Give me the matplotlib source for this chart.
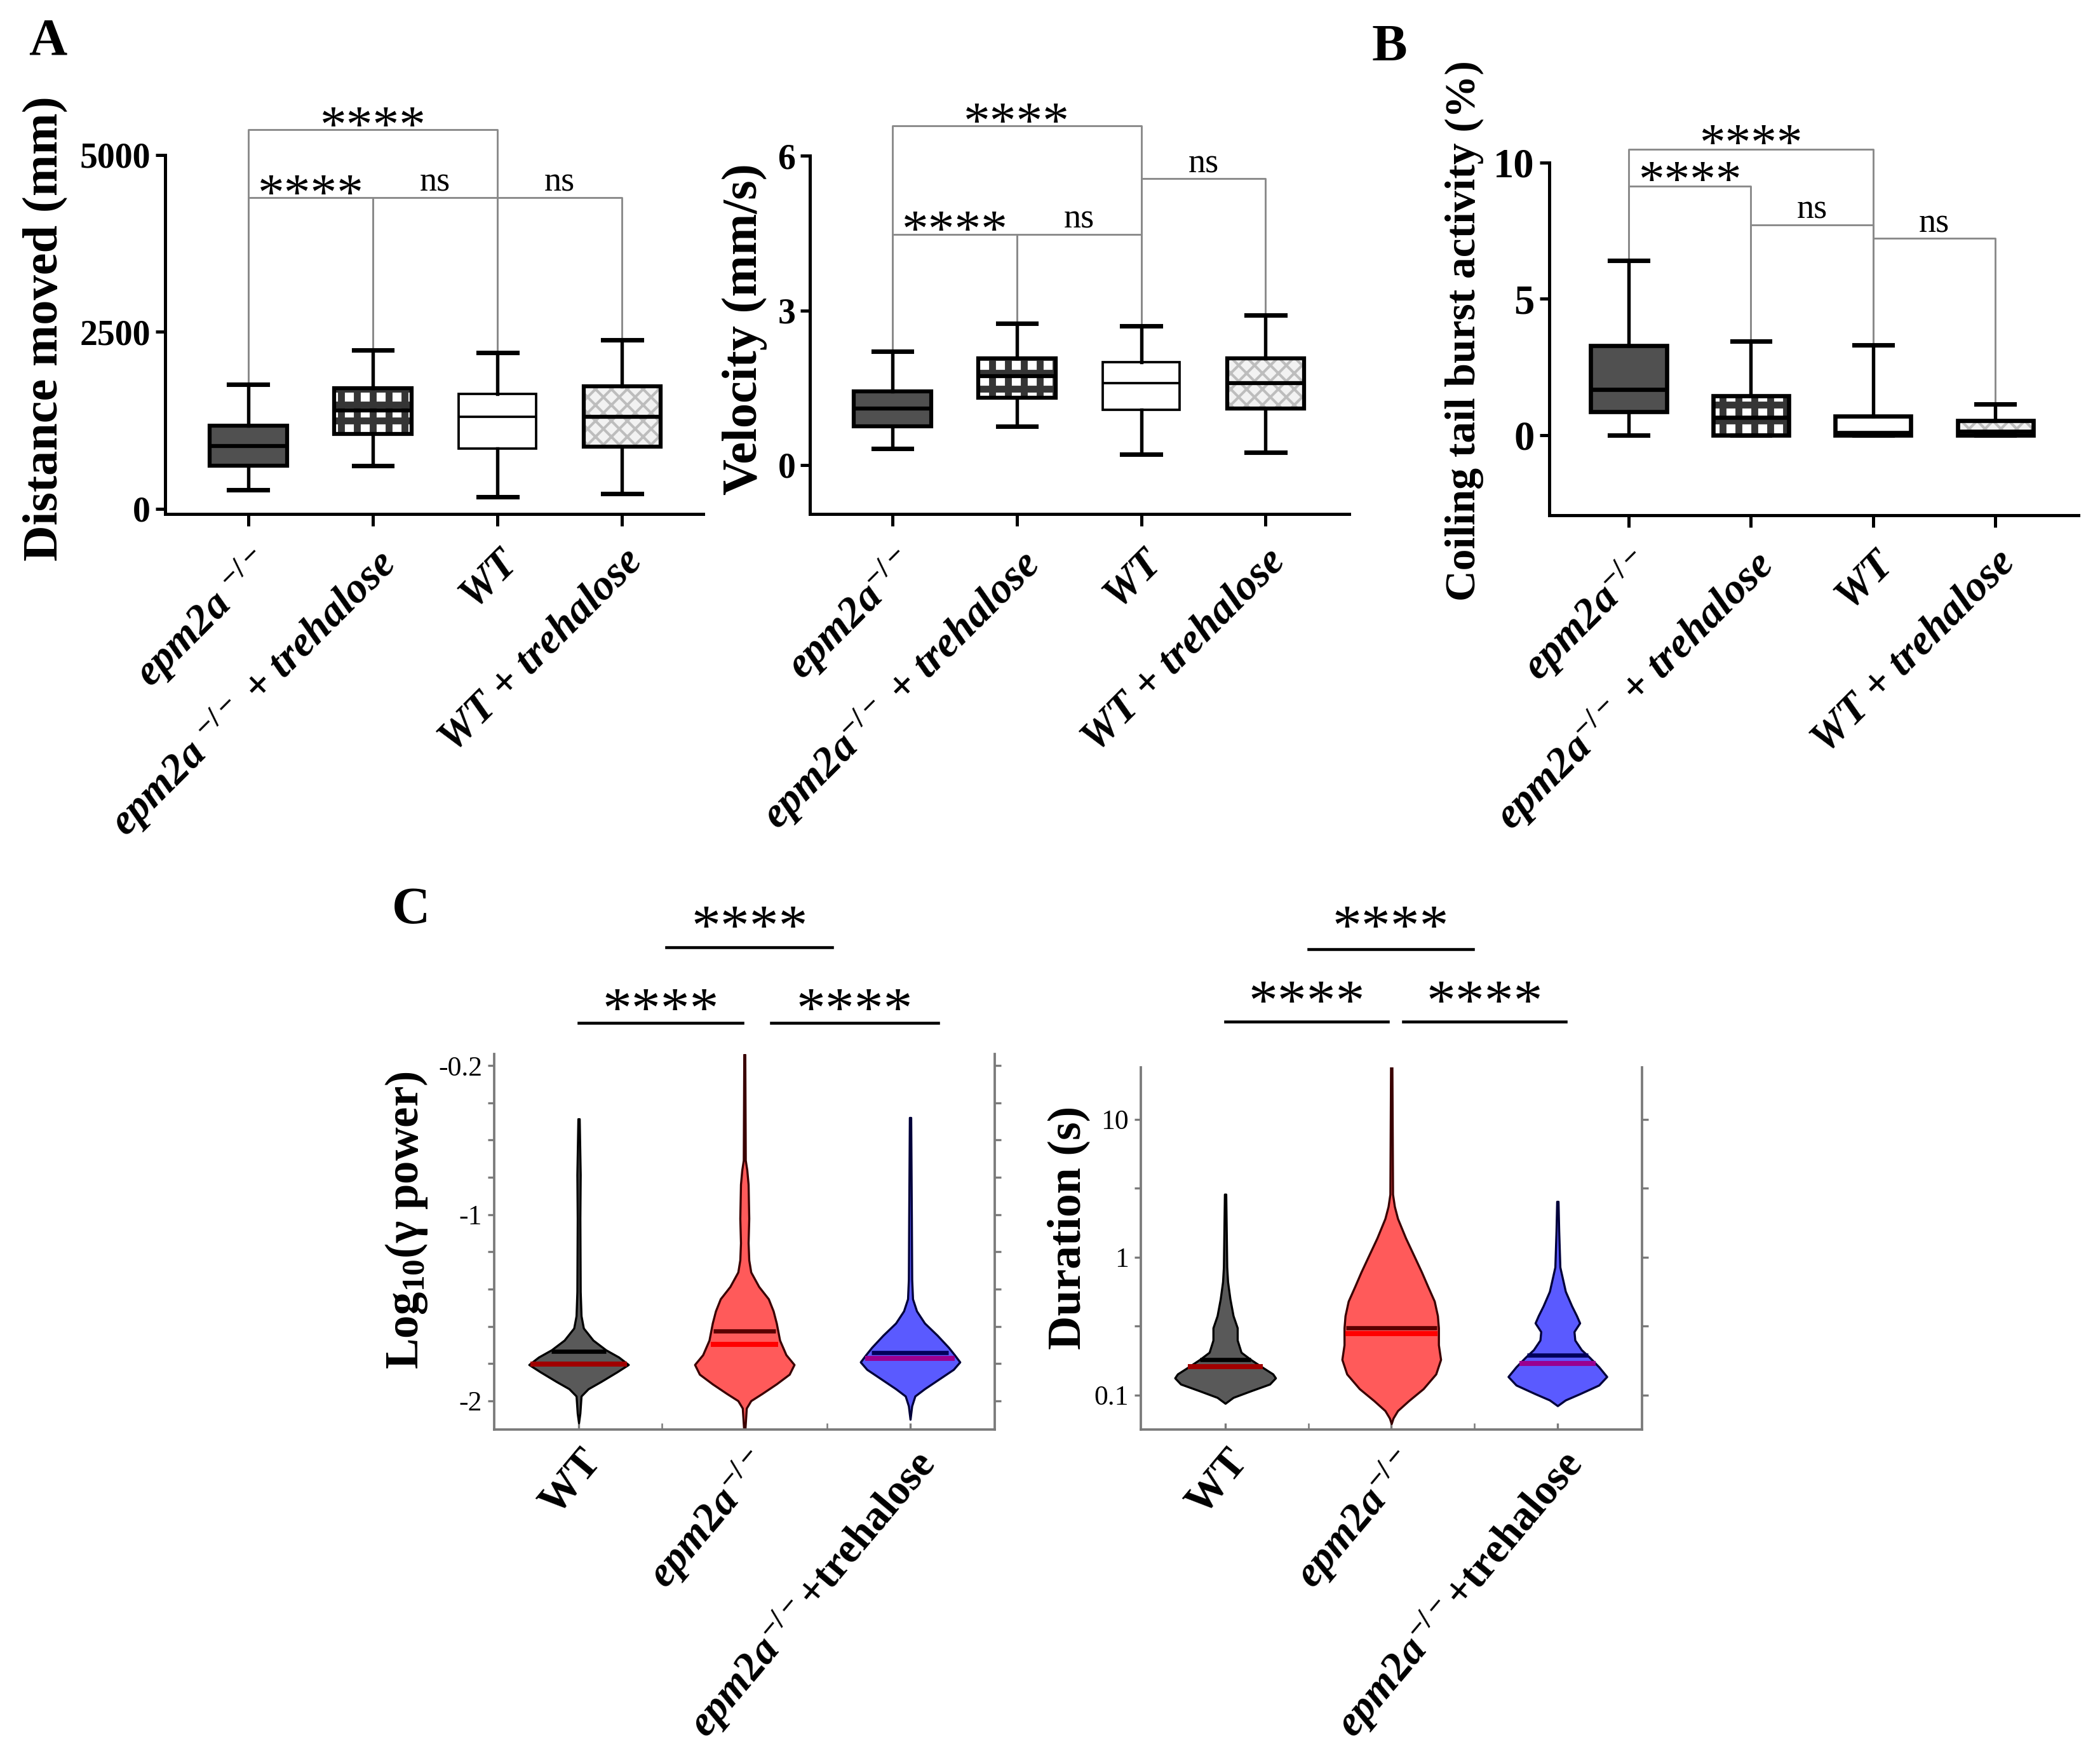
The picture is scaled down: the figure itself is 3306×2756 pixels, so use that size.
import numpy as np
import matplotlib
matplotlib.use('Agg')
import matplotlib.pyplot as plt
from matplotlib.patches import Rectangle
from matplotlib.ticker import NullLocator
from matplotlib.transforms import blended_transform_factory

plt.rcParams['font.family'] = ['Liberation Serif', 'DejaVu Serif']
plt.rcParams['mathtext.fontset'] = 'custom'
plt.rcParams['mathtext.rm'] = 'Liberation Serif:bold'
plt.rcParams['mathtext.it'] = 'Liberation Serif:italic:bold'
plt.rcParams['mathtext.bf'] = 'Liberation Serif:bold'
plt.rcParams['hatch.linewidth'] = 2.0

W, H = 3306, 2756

# ---------------- A / B : box plots ----------------
labels_a1 = ['epm2a $^{-/-}$', 'epm2a $^{-/-}$ + trehalose', 'WT', 'WT + trehalose']
labels_ab = ['epm2a$^{-/-}$', 'epm2a$^{-/-}$ + trehalose', 'WT', 'WT + trehalose']

dist_whislo = [271, 604, 170, 217]
dist_q1 = [604, 1060, 851, 875]
dist_med = [890, 1393, 1300, 1300]
dist_q3 = [1176, 1703, 1625, 1726]
dist_whishi = [1757, 2245, 2206, 2384]

vel_whislo = [0.32, 0.75, 0.21, 0.25]
vel_q1 = [0.75, 1.31, 1.07, 1.09]
vel_med = [1.10, 1.72, 1.59, 1.59]
vel_q3 = [1.43, 2.07, 2.00, 2.07]
vel_whishi = [2.20, 2.75, 2.70, 2.91]

coil_whislo = [0, 0, 0, 0]
coil_q1 = [0.85, 0, 0, 0]
coil_med = [1.67, 0.64, 0.08, 0.12]
coil_q3 = [3.28, 1.44, 0.69, 0.52]
coil_whishi = [6.41, 3.43, 3.29, 1.12]

# (left group, right group, height, label)
dist_brackets = [(0, 2, 5356, '****'), (0, 1, 4396, '****'), (1, 2, 4396, 'ns'), (2, 3, 4396, 'ns')]
vel_brackets = [(0, 2, 6.58, '****'), (2, 3, 5.56, 'ns'), (0, 1, 4.48, '****'), (1, 2, 4.48, 'ns')]
coil_brackets = [(0, 2, 10.48, '****'), (0, 1, 9.12, '****'), (1, 2, 7.71, 'ns'), (2, 3, 7.21, 'ns')]

box_face = ['#505050', 'white', 'white', '#f2f2f2']
box_hatch = [None, '++', None, 'xxxx']
hatch_color = [None, '#353535', None, '#bdbdbd']
hatch_lw = [0, 2.6, 0, 1.0]

# ---------------- C : violins ----------------
vio_labels = ['WT', r'$\mathit{epm2a}^{-/-}$', r'$\mathit{epm2a}^{-/-}$+trehalose']
vio_face = ['#595959', '#ff5a5a', '#5a5aff']
vio_edge = ['#000000', '#3a0000', '#00003a']
mean_colors = ['#000000', '#5a0000', '#00005a']
median_colors = ['#a00000', '#ff0000', '#9a0090']

# log10 gamma power: profile levels and half widths
gam_levels = [
    [-0.486, -0.786, -1.021, -1.414, -1.544, -1.61, -1.675, -1.727, -1.766, -1.806,
     -1.845, -1.897, -1.936, -1.975, -2.067, -2.119],
    [-0.14, -0.708, -0.76, -0.838, -1.021, -1.152, -1.244, -1.309, -1.387, -1.453, -1.518,
     -1.583, -1.675, -1.753, -1.806, -1.858, -1.91, -1.962, -2.0, -2.04, -2.15],
    [-0.479, -1.021, -1.348, -1.453, -1.518, -1.583, -1.649, -1.714, -1.753, -1.792,
     -1.832, -1.884, -1.936, -1.975, -2.028, -2.1],
]
gam_halfw = [
    [0.004, 0.010, 0.008, 0.010, 0.015, 0.029, 0.087, 0.164, 0.242, 0.300,
     0.232, 0.135, 0.058, 0.015, 0.008, 0.0],
    [0.003, 0.006, 0.015, 0.023, 0.027, 0.023, 0.027, 0.039, 0.087, 0.145, 0.174,
     0.193, 0.213, 0.251, 0.300, 0.271, 0.193, 0.106, 0.039, 0.012, 0.004],
    [0.004, 0.008, 0.010, 0.015, 0.039, 0.087, 0.164, 0.232, 0.267, 0.300,
     0.261, 0.174, 0.087, 0.029, 0.010, 0.0],
]
gam_mean = [-1.734, -1.627, -1.740]
gam_mean_hw = [0.164, 0.186, 0.232]
gam_median = [-1.803, -1.697, -1.773]
gam_median_hw = [0.290, 0.205, 0.270]

# duration (s)
dur_levels = [
    [2.86, 1.905, 0.847, 0.664, 0.499, 0.376, 0.307, 0.250, 0.204, 0.181, 0.160, 0.142,
     0.133, 0.120, 0.107, 0.096, 0.087],
    [24.5, 2.86, 2.33, 1.905, 1.377, 1.037, 0.780, 0.611, 0.479, 0.376, 0.307, 0.231,
     0.181, 0.142, 0.111, 0.091, 0.077, 0.068, 0.062],
    [2.535, 1.556, 0.847, 0.564, 0.442, 0.376, 0.333, 0.288, 0.250, 0.213, 0.188, 0.160,
     0.136, 0.118, 0.102, 0.092, 0.0836],
]
dur_halfw = [
    [0.004, 0.006, 0.010, 0.015, 0.029, 0.048, 0.073, 0.073, 0.096, 0.153, 0.220, 0.287,
     0.303, 0.268, 0.153, 0.048, 0.0],
    [0.004, 0.008, 0.019, 0.038, 0.086, 0.134, 0.182, 0.220, 0.259, 0.278, 0.284, 0.284,
     0.297, 0.268, 0.192, 0.105, 0.038, 0.011, 0.0],
    [0.004, 0.008, 0.015, 0.048, 0.086, 0.115, 0.134, 0.100, 0.105, 0.144, 0.192, 0.249,
     0.297, 0.249, 0.134, 0.048, 0.0],
]
dur_mean = [0.180, 0.307, 0.194]
dur_mean_hw = [0.153, 0.274, 0.182]
dur_median = [0.161, 0.280, 0.170]
dur_median_hw = [0.226, 0.278, 0.230]

# significance bars in C: (x from, x to, bar height in axes fraction)
gam_bars = [(1.0, 1.99, 1.084), (2.16, 3.17, 1.084), (1.53, 2.53, 1.285)]
gam_star_y = [1.072, 1.072, 1.292]
dur_bars = [(1.0, 1.98, 1.127), (2.07, 3.05, 1.127), (1.50, 2.49, 1.327)]
dur_star_y = [1.131, 1.131, 1.338]


fig = plt.figure(figsize=(W / 300, H / 300), dpi=300)


def add_ax(l, t, r, b):
    return fig.add_axes([l / W, 1 - b / H, (r - l) / W, (b - t) / H])


def draw_boxes(ax, whislo, q1, med, q3, whishi, lw):
    for i in range(4):
        st = dict(whislo=whislo[i], q1=q1[i], med=med[i], q3=q3[i], whishi=whishi[i])
        face = box_face[i]
        if box_hatch[i]:
            r = Rectangle((i - 0.31, q1[i]), 0.62, q3[i] - q1[i], facecolor=box_face[i],
                          edgecolor=hatch_color[i], hatch=box_hatch[i], lw=0, zorder=2)
            if hasattr(r, 'set_hatch_linewidth'):
                r.set_hatch_linewidth(hatch_lw[i])
            ax.add_patch(r)
            face = 'none'
        ax.bxp([st], positions=[i], widths=0.62, capwidths=0.31, patch_artist=True,
               showfliers=False, manage_ticks=False, zorder=3,
               boxprops=dict(facecolor=face, edgecolor='black', linewidth=lw[i]),
               whiskerprops=dict(color='black', linewidth=1.3),
               capprops=dict(color='black', linewidth=1.7),
               medianprops=dict(color='black', linewidth=lw[i]))


def draw_brackets(ax, brackets, whishi, star_fs, star_dy):
    for i, j, y, lab in brackets:
        ax.plot([i, i, j, j], [whishi[i], y, y, whishi[j]], color='#8a8a8a', lw=0.7,
                clip_on=False, zorder=1)
        if lab == 'ns':
            ax.annotate(lab, xy=((i + j) / 2, y), xytext=(0, 2.4), textcoords='offset points',
                        ha='center', va='baseline', fontsize=13, annotation_clip=False)
        else:
            ax.annotate(lab, xy=((i + j) / 2, y), xytext=(0, star_dy), textcoords='offset points',
                        ha='center', va='baseline', fontsize=star_fs, annotation_clip=False)


def style_box_axes(ax, xlim, ylim, yticks, labels, tick_fs):
    ax.set_xlim(xlim)
    ax.set_ylim(ylim)
    ax.spines[['top', 'right']].set_visible(False)
    ax.spines[['left', 'bottom']].set_linewidth(1.2)
    ax.set_yticks(yticks)
    ax.set_yticklabels([str(t) for t in yticks], fontweight='bold', fontsize=tick_fs)
    ax.set_xticks(range(4))
    ax.set_xticklabels(labels, rotation=45, ha='right', rotation_mode='anchor',
                       fontsize=16, fontweight='bold', fontstyle='italic')
    ax.tick_params(axis='y', length=3.5, width=1.2, pad=2)
    ax.tick_params(axis='x', length=4.5, width=1.2, pad=6)


# A1 distance moved
ax1 = add_ax(260, 243.6, 1107, 809.3)
draw_boxes(ax1, dist_whislo, dist_q1, dist_med, dist_q3, dist_whishi, [1.5, 1.5, 0.9, 1.5])
style_box_axes(ax1, (-0.667, 3.65), (-77, 5000), [0, 2500, 5000], labels_a1, 13.4)
draw_brackets(ax1, dist_brackets, dist_whishi, 20, -4.5)

# A2 velocity
ax2 = add_ax(1275.4, 245.4, 2124, 809.3)
draw_boxes(ax2, vel_whislo, vel_q1, vel_med, vel_q3, vel_whishi, [1.5, 1.5, 0.9, 1.5])
style_box_axes(ax2, (-0.663, 3.673), (-0.956, 6), [0, 3, 6], labels_ab, 13.4)
draw_brackets(ax2, vel_brackets, vel_whishi, 20, -4.5)

# B coiling
ax3 = add_ax(2438.5, 255.7, 3272, 811)
draw_boxes(ax3, coil_whislo, coil_q1, coil_med, coil_q3, coil_whishi, [1.6, 1.6, 1.6, 1.6])
style_box_axes(ax3, (-0.652, 3.68), (-2.95, 10), [0, 5, 10], labels_ab, 15.5)
draw_brackets(ax3, coil_brackets, coil_whishi, 19.5, -3.5)


def draw_violins(ax, levels, halfw, mean, mean_hw, median, median_hw):
    for k in range(3):
        y = np.array(levels[k])
        w = np.array(halfw[k])
        ax.fill_betweenx(y, k + 1 - w, k + 1 + w, facecolor=vio_face[k],
                         edgecolor=vio_edge[k], lw=0.8, zorder=2)
        ax.plot([k + 1 - mean_hw[k], k + 1 + mean_hw[k]], [mean[k], mean[k]],
                color=mean_colors[k], lw=1.6, solid_capstyle='butt', zorder=3)
        ax.plot([k + 1 - median_hw[k], k + 1 + median_hw[k]], [median[k], median[k]],
                color=median_colors[k], lw=1.9, solid_capstyle='butt', zorder=3)


def style_violin_axes(ax):
    ax.set_xlim(0.49, 3.51)
    ax.spines['top'].set_visible(False)
    for s in ['left', 'right', 'bottom']:
        ax.spines[s].set_color('#7a7a7a')
        ax.spines[s].set_linewidth(0.9)
    ax.set_xticks([1, 2, 3])
    ax.set_xticklabels(vio_labels, rotation=50, ha='right', rotation_mode='anchor',
                       fontsize=16, fontweight='bold')
    ax.set_xticks([1.5, 2.5], minor=True)
    ax.tick_params(axis='x', which='both', direction='in', length=2.5, color='#7a7a7a', pad=5)
    ax.tick_params(axis='y', which='both', left=True, right=True, direction='out',
                   length=2.5, color='#7a7a7a', labelsize=10.5, pad=2)


def draw_sig(ax, bars, star_y):
    tr = blended_transform_factory(ax.transData, ax.transAxes)
    for (x0, x1, yb), ys in zip(bars, star_y):
        ax.plot([x0, x1], [yb, yb], color='black', lw=1.1, transform=tr, clip_on=False)
        ax.text((x0 + x1) / 2, ys, '****', transform=tr, ha='center', va='baseline',
                fontsize=22)


# C1 gamma power
ax4 = add_ax(778, 1659.4, 1566, 2249.6)
draw_violins(ax4, gam_levels, gam_halfw, gam_mean, gam_mean_hw, gam_median, gam_median_hw)
style_violin_axes(ax4)
ax4.set_ylim(-2.153, -0.139)
gam_ticks = np.round(np.arange(-2.0, -0.19, 0.2), 1)
ax4.set_yticks(gam_ticks)
ax4.set_yticklabels(['-2' if t == -2 else '-1' if t == -1 else '-0.2' if t == -0.2 else ''
                     for t in gam_ticks])
draw_sig(ax4, gam_bars, gam_star_y)

# C2 duration
ax5 = add_ax(1795.5, 1680, 2585.4, 2249.6)
draw_violins(ax5, dur_levels, dur_halfw, dur_mean, dur_mean_hw, dur_median, dur_median_hw)
ax5.set_yscale('log')
style_violin_axes(ax5)
ax5.set_ylim(0.0565, 23.8)
ax5.set_yticks([0.1, 0.316, 1, 3.16, 10])
ax5.set_yticklabels(['0.1', '', '1', '', '10'])
ax5.yaxis.set_minor_locator(NullLocator())
draw_sig(ax5, dur_bars, dur_star_y)

# axis titles and panel letters
fig.text(72 / W, 1 - 517 / H, 'Distance moved (mm)', rotation=90, ha='center', va='center',
         fontsize=18.8, fontweight='bold')
fig.text(1172 / W, 1 - 518 / H, 'Velocity (mm/s)', rotation=90, ha='center', va='center',
         fontsize=18.8, fontweight='bold')
fig.text(2305 / W, 1 - 521 / H, 'Coiling tail burst activity (%)', rotation=90, ha='center',
         va='center', fontsize=16.2, fontweight='bold')
fig.text(640 / W, 1 - 1921 / H, r'Log$_{10}$(γ power)', rotation=90, ha='center', va='center',
         fontsize=17.5, fontweight='bold')
fig.text(1682 / W, 1 - 1932 / H, 'Duration (s)', rotation=90, ha='center', va='center',
         fontsize=17.7, fontweight='bold')

fig.text(45 / W, 1 - 86 / H, 'A', fontsize=20, fontweight='bold', va='baseline')
fig.text(2160 / W, 1 - 95 / H, 'B', fontsize=20, fontweight='bold', va='baseline')
fig.text(617 / W, 1 - 1453 / H, 'C', fontsize=20, fontweight='bold', va='baseline')

fig.savefig('out.png', dpi=300)
